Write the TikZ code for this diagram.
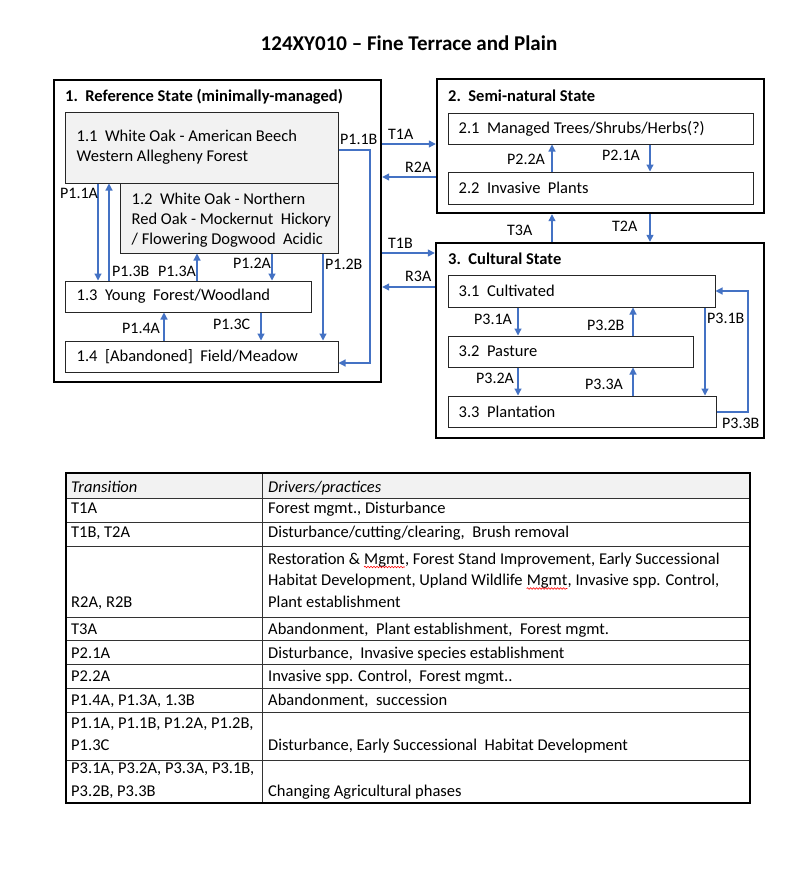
\documentclass[tikz,border=0pt]{standalone}
\usepackage{fontspec}
\setmainfont{Carlito}
\usetikzlibrary{arrows.meta,calc,decorations.pathmorphing}
\definecolor{arrblue}{HTML}{4472C4}
\definecolor{boxgray}{HTML}{F2F2F2}
\begin{document}
\begin{tikzpicture}[x=1pt,y=-1pt,
  every node/.style={font=\fontsize{16.5}{20}\selectfont, inner sep=0pt},
  sbox/.style={draw=black, line width=2.4pt},
  ibox/.style={draw=black!85, line width=1pt},
  gbox/.style={ibox, fill=boxgray},
  itext/.style={anchor=west, align=left},
  lbl/.style={anchor=west, font=\fontsize{16}{20}\selectfont},
  ttl/.style={anchor=west, font=\bfseries\fontsize{16.5}{20}\selectfont},
  arr/.style={draw=arrblue, line width=1.2pt, -{Triangle[length=7pt,width=7pt]}},
  tline/.style={draw=black!80, line width=1pt},
  ttext/.style={anchor=base west},
  wavy/.style={draw=red, line width=0.6pt, decorate, decoration={snake, amplitude=0.8pt, segment length=3pt}},
]
\useasboundingbox (0,0) rectangle (800,873);
\fill[white] (0,0) rectangle (800,873);

% title
\node[font=\bfseries\fontsize{21}{24}\selectfont] (title) at (409,43) {124XY010 -- Fine Terrace and Plain};

% state boxes
\node[sbox, minimum width=327pt, minimum height=302pt] (s1) at (217.5,231) {};
\node[sbox, minimum width=327pt, minimum height=134pt] (s2) at (600.5,146) {};
\node[sbox, minimum width=328pt, minimum height=195pt] (s3) at (600,340.5) {};

\node[ttl] (h1) at (65,97) {1.\ \ Reference State (minimally-managed)};
\node[ttl] (h2) at (448,96) {2.\ \ Semi-natural State};
\node[ttl] (h3) at (448,259) {3.\ \ Cultural State};

% phase boxes
\node[gbox, minimum width=273pt, minimum height=71pt] (b11) at (201.5,147.5) {};
\node[gbox, minimum width=218pt, minimum height=70pt] (b12) at (229,218) {};
\node[ibox, minimum width=246pt, minimum height=31pt] (b13) at (188,296.5) {};
\node[ibox, minimum width=273pt, minimum height=31pt] (b14) at (201.5,356.5) {};
\node[ibox, minimum width=305pt, minimum height=31pt] (b21) at (600.5,128.5) {};
\node[ibox, minimum width=305pt, minimum height=32pt] (b22) at (600.5,188) {};
\node[ibox, minimum width=267pt, minimum height=32pt] (b31) at (581.5,291) {};
\node[ibox, minimum width=245pt, minimum height=31pt] (b32) at (570.5,351.5) {};
\node[ibox, minimum width=268pt, minimum height=31pt] (b33) at (582,411.5) {};

\node[itext] (t11) at ([xshift=12pt]b11.west) {1.1\ \ White Oak - American Beech\\Western Allegheny Forest};
\node[itext] (t12) at ([xshift=12pt,yshift=-2pt]b12.west) {1.2\ \ White Oak - Northern\\Red Oak - Mockernut\ \ Hickory\\/ Flowering Dogwood\ \ Acidic};
\node[itext] (t13) at ([xshift=12pt]b13.west) {1.3\ \ Young\ \ Forest/Woodland};
\node[itext] (t14) at ([xshift=12pt]b14.west) {1.4\ \ [Abandoned]\ \ Field/Meadow};
\node[itext] (t21) at ([xshift=11pt]b21.west) {2.1\ \ Managed Trees/Shrubs/Herbs(?)};
\node[itext] (t22) at ([xshift=11pt]b22.west) {2.2\ \ Invasive\ \ Plants};
\node[itext] (t31) at ([xshift=11pt]b31.west) {3.1\ \ Cultivated};
\node[itext] (t32) at ([xshift=11pt]b32.west) {3.2\ \ Pasture};
\node[itext] (t33) at ([xshift=11pt]b33.west) {3.3\ \ Plantation};

% column / row helper coordinates
\coordinate (c98) at (98,0);
\coordinate (c109) at (109,0);
\coordinate (c164) at (164,0);
\coordinate (c197) at (197,0);
\coordinate (c261) at (261,0);
\coordinate (c272) at (272,0);
\coordinate (c323) at (323,0);
\coordinate (c370) at (370,0);
\coordinate (c518) at (518,0);
\coordinate (c552) at (552,0);
\coordinate (c633) at (633,0);
\coordinate (c650) at (650,0);
\coordinate (c705) at (705,0);
\coordinate (c748) at (748,0);
\coordinate (r144) at (0,144);
\coordinate (r150) at (0,150);
\coordinate (r177) at (0,177);
\coordinate (r253) at (0,253);
\coordinate (r287) at (0,287);
\coordinate (r291) at (0,291);
\coordinate (r363) at (0,363);
\coordinate (r412) at (0,412);

% arrows in state 1
\draw[arr] (b11.south -| c98) -- (b13.north -| c98);
\draw[arr] (b13.north -| c109) -- (b11.south -| c109);
\draw[arr] (b13.north -| c197) -- (b12.south -| c197);
\draw[arr] (b12.south -| c272) -- (b13.north -| c272);
\draw[arr] (b12.south -| c323) -- (b14.north -| c323);
\draw[arr] (b13.south -| c261) -- (b14.north -| c261);
\draw[arr] (b14.north -| c164) -- (b13.south -| c164);
\draw[arr] (b11.east |- r150) -| (c370 |- r363) -- (b14.east |- r363);

% arrows in state 2
\draw[arr] (b22.north -| c552) -- (b21.south -| c552);
\draw[arr] (b21.south -| c650) -- (b22.north -| c650);

% arrows in state 3
\draw[arr] (b31.south -| c518) -- (b32.north -| c518);
\draw[arr] (b32.north -| c633) -- (b31.south -| c633);
\draw[arr] (b32.south -| c518) -- (b33.north -| c518);
\draw[arr] (b33.north -| c633) -- (b32.south -| c633);
\draw[arr] (b31.south -| c705) -- (b33.north -| c705);
\draw[arr] (b33.east |- r412) -| (c748 |- r291) -- (b31.east |- r291);

% transitions between states
\draw[arr] (s1.east |- r144) -- (s2.west |- r144);
\draw[arr] (s2.west |- r177) -- (s1.east |- r177);
\draw[arr] (s1.east |- r253) -- (s3.west |- r253);
\draw[arr] (s3.west |- r287) -- (s1.east |- r287);
\draw[arr] (s3.north -| c552) -- (s2.south -| c552);
\draw[arr] (s2.south -| c650) -- (s3.north -| c650);

% labels
\node[lbl] (lP11B) at (340,139) {P1.1B};
\node[lbl] (lP11A) at (60,193) {P1.1A};
\node[lbl] (lP13B) at (112,271) {P1.3B};
\node[lbl] (lP13A) at (158,271) {P1.3A};
\node[lbl] (lP12A) at (233,263) {P1.2A};
\node[lbl] (lP12B) at (325,264) {P1.2B};
\node[lbl] (lP14A) at (122,328) {P1.4A};
\node[lbl] (lP13C) at (213,324) {P1.3C};
\node[lbl] (lT1A) at (388,134) {T1A};
\node[lbl] (lR2A) at (405,167) {R2A};
\node[lbl] (lT1B) at (388,243) {T1B};
\node[lbl] (lR3A) at (405,276) {R3A};
\node[lbl] (lP22A) at (507,159) {P2.2A};
\node[lbl] (lP21A) at (602,155) {P2.1A};
\node[lbl] (lT3A) at (507,230) {T3A};
\node[lbl] (lT2A) at (612,226) {T2A};
\node[lbl] (lP31A) at (474,319) {P3.1A};
\node[lbl] (lP32B) at (587,325) {P3.2B};
\node[lbl] (lP31B) at (707,318) {P3.1B};
\node[lbl] (lP32A) at (476,378) {P3.2A};
\node[lbl] (lP33A) at (585,384) {P3.3A};
\node[lbl] (lP33B) at (722,423) {P3.3B};

% table
\fill[boxgray] (66,473) rectangle (750,498);
\foreach \yy in {498,522,546,617,640,664,688,712,760} {
  \draw[tline] (66,\yy) -- (750,\yy);
}
\draw[tline] (262,473) -- (262,803);
\draw[line width=1.5pt] (66,473) rectangle (750,803);

\node[ttext, font=\itshape\fontsize{16.5}{20}\selectfont] (th1) at (71,492) {Transition};
\node[ttext, font=\itshape\fontsize{16.5}{20}\selectfont] (th2) at (268,492) {Drivers/practices};

\node[ttext] (a1) at (71,513) {T1A};
\node[ttext] (d1) at (268,513) {Forest mgmt., Disturbance};
\node[ttext] (a2) at (71,537) {T1B, T2A};
\node[ttext] (d2) at (268,537) {Disturbance/cutting/clearing,\ \ Brush removal};
\node[ttext] (a3) at (71,607) {R2A, R2B};
\node[ttext] (d3a) at (268,564) {Restoration \&};
\node[ttext] (d3m1) at ([xshift=3.7pt]d3a.base east) {Mgmt};
\node[ttext] (d3b) at (d3m1.base east) {, Forest Stand Improvement, Early Successional};
\node[ttext] (d3c) at (268,585.5) {Habitat Development, Upland Wildlife};
\node[ttext] (d3m2) at ([xshift=3.7pt]d3c.base east) {Mgmt};
\node[ttext] (d3d) at (d3m2.base east) {, Invasive spp. Control,};
\node[ttext] (d3e) at (268,607) {Plant establishment};
\draw[wavy] ([yshift=-3pt]d3m1.base west) -- ([yshift=-3pt]d3m1.base east);
\draw[wavy] ([yshift=-3pt]d3m2.base west) -- ([yshift=-3pt]d3m2.base east);
\node[ttext] (a4) at (71,634) {T3A};
\node[ttext] (d4) at (268,634) {Abandonment,\ \ Plant establishment,\ \ Forest mgmt.};
\node[ttext] (a5) at (71,658) {P2.1A};
\node[ttext] (d5) at (268,658) {Disturbance,\ \ Invasive species establishment};
\node[ttext] (a6) at (71,681) {P2.2A};
\node[ttext] (d6) at (268,681) {Invasive spp. Control,\ \ Forest mgmt..};
\node[ttext] (a7) at (71,705) {P1.4A, P1.3A, 1.3B};
\node[ttext] (d7) at (268,705) {Abandonment,\ \ succession};
\node[ttext] (a8) at (71,728) {P1.1A, P1.1B, P1.2A, P1.2B,};
\node[ttext] (a8b) at (71,750) {P1.3C};
\node[ttext] (d8) at (268,750) {Disturbance, Early Successional\ \ Habitat Development};
\node[ttext] (a9) at (71,773) {P3.1A, P3.2A, P3.3A, P3.1B,};
\node[ttext] (a9b) at (71,796) {P3.2B, P3.3B};
\node[ttext] (d9) at (268,796) {Changing Agricultural phases};
\end{tikzpicture}
\end{document}
